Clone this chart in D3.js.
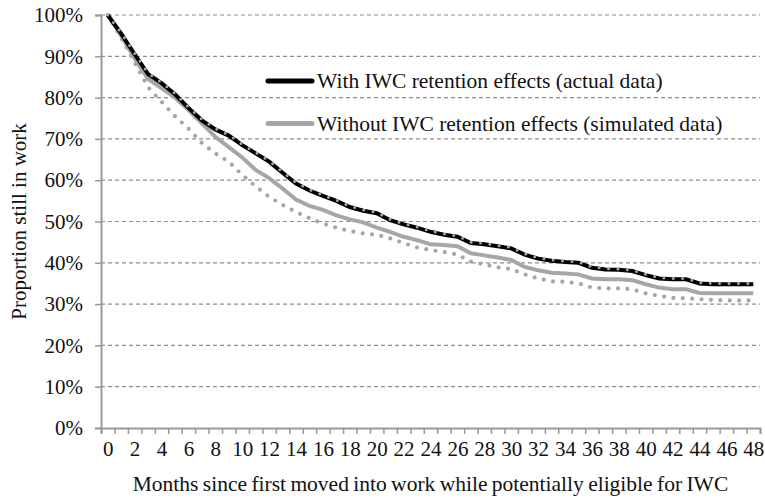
<!DOCTYPE html>
<html>
<head>
<meta charset="utf-8">
<script src="https://cdn.jsdelivr.net/npm/d3@7"></script>
<style>
	html, body { margin: 0; padding: 0; background: #fff; }
	text { font-family: "Liberation Serif", "Times New Roman", serif; fill: #111; }
</style>
</head>
<body>
<script>
// months 0..48
const months = d3.range(0, 49)

// proportion still in work (%)
const actual = [100, 95.5, 90.5, 85.7, 83.5, 80.8, 77.5, 74.5, 72.3, 70.8,
	68.5, 66.5, 64.5, 61.8, 59.2, 57.5, 56.2, 55, 53.5, 52.6,
	52, 50.3, 49.3, 48.5, 47.5, 46.8, 46.3, 44.8, 44.5, 44,
	43.5, 42, 41, 40.5, 40.2, 40, 38.8, 38.4, 38.3, 38,
	37, 36.2, 36, 36, 35, 34.8, 34.8, 34.8, 34.8]

const simulated = [100, 95, 89.5, 84.5, 82.3, 80, 77, 73.8, 70.5, 68,
	65.5, 62.5, 60.5, 58, 55.3, 53.8, 52.8, 51.5, 50.5, 49.8,
	48.5, 47.5, 46.3, 45.5, 44.5, 44.3, 44, 42.3, 41.8, 41.3,
	40.7, 39, 38.2, 37.6, 37.4, 37.2, 36.2, 36, 36, 35.8,
	34.8, 34, 33.6, 33.6, 32.7, 32.6, 32.6, 32.6, 32.6]

// dotted bounds of the simulated series
const simUpper = [100, 95.7, 90.7, 85.9, 83.7, 81, 77.7, 74.7, 72.5, 71,
	68.7, 66.7, 64.7, 62, 59.4, 57.7, 56.4, 55.2, 53.7, 52.8,
	52.2, 50.5, 49.5, 48.7, 47.7, 47, 46.5, 45, 44.7, 44.2,
	43.7, 42.2, 41.2, 40.7, 40.4, 40.2, 39, 38.6, 38.5, 38.2,
	37.2, 36.4, 36.2, 36.2, 35.2, 35, 35, 35, 35]

const simLower = [100, 94.5, 88.5, 82.5, 79, 75.5, 72.5, 69, 66.5, 64.5,
	61.3, 58.5, 56, 54, 52.3, 50.8, 49.5, 48.5, 47.7, 47.1,
	46.8, 45.9, 44.8, 43.7, 43.1, 42.6, 42, 40.3, 39.6, 38.9,
	38.5, 37.2, 36.2, 35.5, 35.4, 35, 34, 33.8, 33.8, 33.6,
	32.6, 32, 31.5, 31.4, 31.2, 31, 30.9, 30.9, 30.9]

const yTicks = d3.range(0, 101, 10)
const xLabels = months.filter(m => m % 2 == 0)

const legendItems = [
	{label: 'With IWC retention effects (actual data)', color: '#000'},
	{label: 'Without IWC retention effects (simulated data)', color: '#a6a6a6'}
]

const width = 765, height = 503
const plot = {left: 101, right: 760, top: 15, bottom: 428}

const svg = d3.select('body').append('svg')
	.attr('width', width).attr('height', height)

const x = d3.scaleLinear().domain([-0.5, 48.5]).range([plot.left, plot.right])
const y = d3.scaleLinear().domain([0, 100]).range([plot.bottom, plot.top])

// Gridlines
svg.append('g')
	.selectAll('line')
	.data(yTicks.filter(t => t > 0))
	.join('line')
		.attr('x1', plot.left).attr('x2', plot.right)
		.attr('y1', d => y(d)).attr('y2', d => y(d))
		.style('stroke', '#8c8c8c').style('stroke-width', 1.2)
		.style('stroke-dasharray', '4,3')

// Y axis
const yAxis = svg.append('g')
	.attr('transform', `translate(${plot.left},0)`)
	.call(d3.axisLeft(y).tickValues(yTicks).tickSize(6).tickPadding(12).tickFormat(d => d + '%'))
yAxis.select('.domain').style('stroke', '#999').style('stroke-width', 2)
yAxis.selectAll('.tick line').style('stroke', '#999').style('stroke-width', 1.5)
yAxis.selectAll('.tick text').style('font-size', '21px').style('font-family', '"Liberation Serif", serif').attr('fill', '#111')

// X axis: ticks between months, labels on even months
const xTickAxis = svg.append('g')
	.attr('transform', `translate(0,${plot.bottom})`)
	.call(d3.axisBottom(x).tickValues(d3.range(-0.5, 49, 1)).tickSize(6).tickFormat(''))
xTickAxis.select('.domain').style('stroke', '#999').style('stroke-width', 2)
xTickAxis.selectAll('.tick line').style('stroke', '#999').style('stroke-width', 1.5)

const xLabelAxis = svg.append('g')
	.attr('transform', `translate(0,${plot.bottom})`)
	.call(d3.axisBottom(x).tickValues(xLabels).tickSize(0).tickPadding(13))
xLabelAxis.select('.domain').remove()
xLabelAxis.selectAll('.tick text').style('font-size', '21px').style('font-family', '"Liberation Serif", serif').attr('fill', '#111')

// Axis titles
svg.append('text')
	.attr('x', (plot.left + plot.right) / 2).attr('y', 491)
	.attr('text-anchor', 'middle')
	.style('font-size', '21.5px').style('word-spacing', '-1px')
	.text('Months since first moved into work while potentially eligible  for IWC')

svg.append('text')
	.attr('transform', `translate(26,${(plot.top + plot.bottom) / 2}) rotate(-90)`)
	.attr('text-anchor', 'middle')
	.style('font-size', '21px')
	.text('Proportion still  in work')

// Lines
const line = d3.line().x((d, i) => x(months[i])).y(d => y(d))

svg.append('path').datum(simLower)
	.attr('d', line)
	.style('fill', 'none').style('stroke', '#a6a6a6').style('stroke-width', 4.2)
	.style('stroke-linecap', 'round').style('stroke-dasharray', '0,9.4')

svg.append('path').datum(simulated)
	.attr('d', line)
	.style('fill', 'none').style('stroke', '#a6a6a6').style('stroke-width', 4)

svg.append('path').datum(actual)
	.attr('d', line)
	.style('fill', 'none').style('stroke', '#000').style('stroke-width', 4)

svg.append('path').datum(simUpper)
	.attr('d', line)
	.style('fill', 'none').style('stroke', '#a6a6a6').style('stroke-width', 3)
	.style('stroke-linecap', 'round').style('stroke-dasharray', '0,9.4')

// Legend
const legend = svg.append('g')
	.selectAll('g')
	.data(legendItems)
	.join('g')
		.attr('transform', (d, i) => `translate(268,${81 + i * 42.5})`)

legend.append('line')
	.attr('x1', 0).attr('x2', 44)
	.style('stroke', d => d.color).style('stroke-width', 5).style('stroke-linecap', 'round')

legend.append('text')
	.attr('x', 49).attr('dy', '0.33em')
	.style('font-size', '21.5px')
	.text(d => d.label)
</script>
</body>
</html>
